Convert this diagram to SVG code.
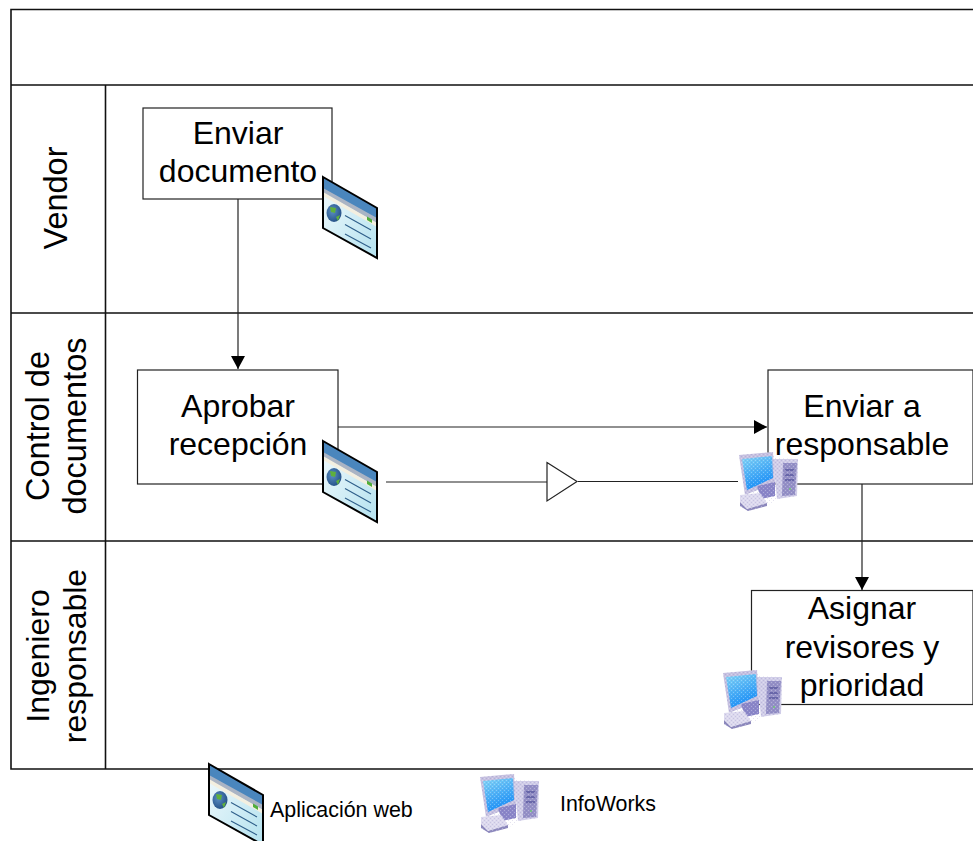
<svg xmlns="http://www.w3.org/2000/svg" width="973" height="841" viewBox="0 0 973 841">
<style>
.t{font-family:"Liberation Sans",Arial,sans-serif;font-size:32px;fill:#000;text-anchor:middle}
.r{font-family:"Liberation Sans",Arial,sans-serif;font-size:32.500px;fill:#000;text-anchor:middle}
.l{font-family:"Liberation Sans",Arial,sans-serif;font-size:21.400px;fill:#000}
.b{fill:#fff;stroke:#222;stroke-width:1.2}
.f{fill:none;stroke:#111;stroke-width:1.6}
.c{fill:none;stroke:#222;stroke-width:1.2}
</style>
<defs>
<marker id="arrow" markerUnits="userSpaceOnUse" markerWidth="14" markerHeight="14" refX="13" refY="7" orient="auto"><path d="M0 0L13 7L0 14Z" fill="#000"/></marker>
<linearGradient id="pg" x1="0" y1="0" x2="1" y2="1"><stop offset="0" stop-color="#f2fafd"/><stop offset="1" stop-color="#b4e2ef"/></linearGradient>
<linearGradient id="sc" x1="0.2" y1="0" x2="0.6" y2="1"><stop offset="0" stop-color="#7fd2f7"/><stop offset="1" stop-color="#128bf8"/></linearGradient>
<radialGradient id="gl" cx="0.4" cy="0.4" r="0.7"><stop offset="0" stop-color="#5b8fc4"/><stop offset="1" stop-color="#1f4a80"/></radialGradient>
<pattern id="dither" width="4" height="4" patternUnits="userSpaceOnUse"><path d="M0 0h1v1h-1zM2 2h1v1h-1z" fill="#fff" fill-opacity="0.3"/><path d="M2 0h1v1h-1zM0 2h1v1h-1z" fill="#6a5fa8" fill-opacity="0.18"/></pattern>
<g id="web">
<path d="M0 0L54 31V81L0 51Z" fill="url(#pg)"/>
<path d="M0 0L54 31V43L0 13Z" fill="#4a86bd"/>
<path d="M0 11L54 41V46L0 16Z" fill="#aab4c4"/>
<path d="M0 15L54 46V50L0 19Z" fill="#f3efe0"/>
<path d="M44 39.500L49 42.500V46L44 43Z" fill="#4fae3a"/>
<ellipse cx="11" cy="36" rx="7.500" ry="9" fill="url(#gl)"/>
<path d="M7 30L13 31L12 36L8 35ZM13 40L17 38L15 44Z" fill="#5fb03c"/>
<path d="M22 38.500L48 53M22 47.500L48 62M22 57L48 71" fill="none" stroke="#2f5f8a" stroke-width="1.100"/>
<path d="M0 0L54 31V81L0 51Z" fill="none" stroke="#000" stroke-width="2"/>
</g>
<g id="pc">
<path d="M34 7L59 7L58 44L38 47Z" fill="#d0cde8"/>
<path d="M44 11L58 11L56 43L43 44Z" fill="#9490c6"/>
<path d="M46 18L55 18M46 23L55 23M46 28L55 28" stroke="#5a5aa0" stroke-width="1.500"/>
<circle cx="51" cy="37" r="1" fill="#6fd06f"/>
<path d="M0 3L34 0L36 31L6 43Z" fill="#c5c0e0"/>
<path d="M3 7L33 4L34 26L8 38Z" fill="url(#sc)"/>
<path d="M18 34L36 30L36 44L22 47Z" fill="#8a86c8"/>
<path d="M1 43L21 41L28 51L8 57L1 50Z" fill="#dcd9ee"/>
<path d="M1 50L8 57L28 51L28 54L9 59L1 54Z" fill="#8d89bd"/>
<path d="M0 3L34 0L36 6L59 7L58 44L38 47L28 54L9 59L1 54L1 43L6 43Z" fill="url(#dither)"/>
</g>
</defs>

<g id="frame">
<rect x="11" y="9.500" width="970" height="759.500" fill="#fff" stroke="none"/>
<path class="f" d="M973 9.500H11V769H973M11 85H973M105.500 85V769M11 313H973M11 541H973"/>
</g>

<g id="connectors">
<path class="c" d="M238 199V369" marker-end="url(#arrow)"/>
<path class="c" d="M338 427H767" marker-end="url(#arrow)"/>
<path class="c" d="M386 482H547M578 481.500H738"/>
<path class="c" d="M547 462.500L577 481.500L547 501Z" fill="#fff"/>
<path class="c" d="M862 484V590" marker-end="url(#arrow)"/>
</g>

<g id="lane-vendor"><text class="r" transform="translate(67 198) rotate(-90)">Vendor</text></g>
<g id="lane-control"><text class="r" transform="translate(48.500 426) rotate(-90)"><tspan x="0" y="0">Control de</tspan><tspan x="0" y="37.500">documentos</tspan></text></g>
<g id="lane-ingeniero"><text class="t" transform="translate(48.500 656) rotate(-90)"><tspan x="0" y="0">Ingeniero</tspan><tspan x="0" y="37.500">responsable</tspan></text></g>

<g id="node-enviar-documento">
<rect class="b" x="143" y="108" width="189" height="91"/>
<text class="t" x="238" y="144">Enviar</text>
<text class="t" x="238" y="182">documento</text>
<use href="#web" x="323" y="177"/>
</g>
<g id="node-aprobar-recepcion">
<rect class="b" x="137.500" y="370" width="200.500" height="114"/>
<text class="t" x="238" y="417">Aprobar</text>
<text class="t" x="238" y="455">recepción</text>
<use href="#web" x="323" y="441"/>
</g>
<g id="node-enviar-responsable">
<rect class="b" x="768" y="370" width="205" height="114"/>
<text class="t" x="862" y="417">Enviar a</text>
<text class="t" x="862" y="455">responsable</text>
<use href="#pc" x="739" y="452"/>
</g>
<g id="node-asignar">
<rect class="b" x="751.500" y="590.500" width="221.500" height="114"/>
<text class="t" x="862" y="619">Asignar</text>
<text class="t" x="862" y="658">revisores y</text>
<text class="t" x="862" y="696">prioridad</text>
<use href="#pc" x="723" y="670"/>
</g>

<g id="legend-web">
<use href="#web" x="209" y="764"/>
<text class="l" x="270" y="817">Aplicación web</text>
</g>
<g id="legend-infoworks">
<use href="#pc" x="480" y="774"/>
<text class="l" x="560" y="811">InfoWorks</text>
</g>
</svg>
